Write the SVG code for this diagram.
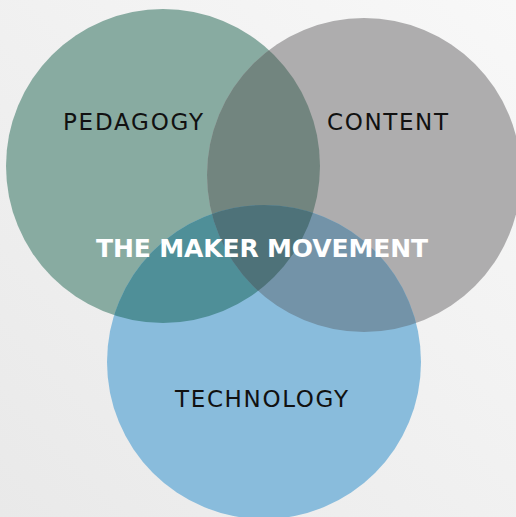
<svg xmlns="http://www.w3.org/2000/svg" width="516" height="517" viewBox="0 0 516 517">
<style>
.lbl{font-family:"DejaVu Sans","Liberation Sans",sans-serif;font-size:23px;fill:#111;text-anchor:middle;}
.title{font-family:"DejaVu Sans","Liberation Sans",sans-serif;font-size:25px;font-weight:bold;fill:#ffffff;text-anchor:middle;}
</style>
<defs>
<linearGradient id="bg" x1="0" y1="1" x2="1" y2="0">
<stop offset="0" stop-color="#e9e9e9"/>
<stop offset="1" stop-color="#f8f8f8"/>
</linearGradient>
<clipPath id="cp-ped"><circle cx="163" cy="166" r="157"/></clipPath>
<clipPath id="cp-con"><circle cx="364" cy="175" r="157"/></clipPath>
</defs>
<rect width="516" height="517" fill="url(#bg)"/>
<g id="pedagogy">
<circle cx="163" cy="166" r="157" fill="#88aba1"/>
</g>
<g id="content">
<circle cx="364" cy="175" r="157" fill="#aeadae"/>
</g>
<g id="technology">
<circle cx="264" cy="362" r="157" fill="#89bcdc"/>
</g>
<g id="overlaps">
<circle cx="364" cy="175" r="157" fill="#72857f" clip-path="url(#cp-ped)"/>
<circle cx="264" cy="362" r="157" fill="#4f8f98" clip-path="url(#cp-ped)"/>
<circle cx="264" cy="362" r="157" fill="#7393a8" clip-path="url(#cp-con)"/>
<g clip-path="url(#cp-ped)"><circle cx="264" cy="362" r="157" fill="#4e7279" clip-path="url(#cp-con)"/></g>
</g>
<g id="labels">
<text class="lbl" x="133" y="130" textLength="140">PEDAGOGY</text>
<text class="lbl" x="387.5" y="130" textLength="121">CONTENT</text>
<text class="lbl" x="261.5" y="407" textLength="173">TECHNOLOGY</text>
<text class="title" x="262" y="257" textLength="332">THE MAKER MOVEMENT</text>
</g>
<g id="connectors"/>
</svg>
